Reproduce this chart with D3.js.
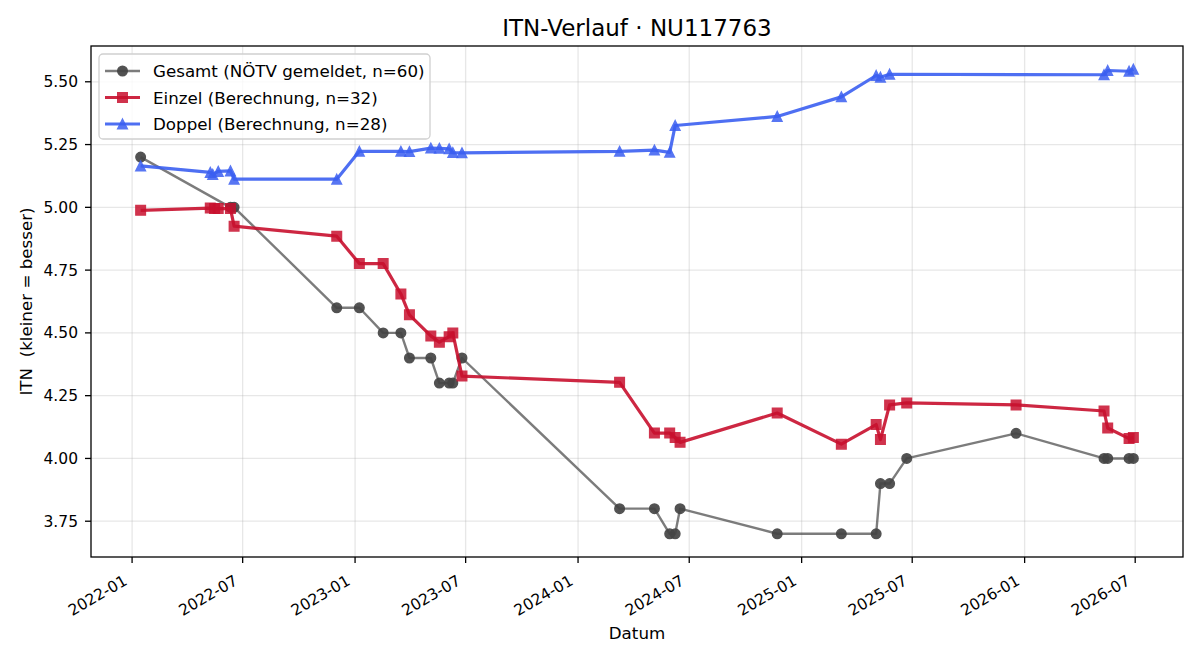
<!DOCTYPE html>
<html>
<head>
<meta charset="utf-8">
<script src="https://cdn.jsdelivr.net/npm/d3@7"></script>
<style>
  body { margin: 0; background: #fff; }
  svg { display: block; font-family: "DejaVu Sans", sans-serif; }
</style>
</head>
<body>
<svg id="chart" width="1200" height="660"></svg>
<script>
// values
const gesamtDates = ["2022-01-15", "2022-06-11", "2022-06-17", "2022-12-02", "2023-01-08", "2023-02-16",
  "2023-03-17", "2023-03-31", "2023-05-05", "2023-05-19", "2023-06-04", "2023-06-10", "2023-06-25",
  "2024-03-09", "2024-05-05", "2024-05-30", "2024-06-08", "2024-06-16", "2024-11-22", "2025-03-07",
  "2025-05-03", "2025-05-10", "2025-05-25", "2025-06-22", "2025-12-18", "2026-05-11", "2026-05-17",
  "2026-06-21", "2026-06-28"];
const gesamtValues = [5.20, 5.00, 5.00, 4.60, 4.60, 4.50,
  4.50, 4.40, 4.40, 4.30, 4.30, 4.30, 4.40,
  3.80, 3.80, 3.70, 3.70, 3.80, 3.70, 3.70,
  3.70, 3.90, 3.90, 4.00, 4.10, 4.00, 4.00,
  4.00, 4.00];

const einzelDates = ["2022-01-15", "2022-05-09", "2022-05-16", "2022-05-22", "2022-06-11", "2022-06-17",
  "2022-12-02", "2023-01-08", "2023-02-16", "2023-03-17", "2023-03-31", "2023-05-05", "2023-05-19",
  "2023-06-04", "2023-06-10", "2023-06-25", "2024-03-09", "2024-05-05", "2024-05-30", "2024-06-08",
  "2024-06-16", "2024-11-22", "2025-03-07", "2025-05-03", "2025-05-10", "2025-05-25", "2025-06-22",
  "2025-12-18", "2026-05-11", "2026-05-17", "2026-06-21", "2026-06-28"];
const einzelValues = [4.988, 4.997, 4.995, 4.995, 4.995, 4.925,
  4.885, 4.776, 4.776, 4.655, 4.572, 4.488, 4.463,
  4.485, 4.500, 4.328, 4.303, 4.101, 4.101, 4.083,
  4.064, 4.181, 4.057, 4.135, 4.075, 4.213, 4.221,
  4.213, 4.189, 4.121, 4.079, 4.083];

const doppelDates = ["2022-01-15", "2022-05-09", "2022-05-13", "2022-05-22", "2022-06-11", "2022-06-17",
  "2022-12-02", "2023-01-08", "2023-03-17", "2023-03-31", "2023-05-05", "2023-05-19", "2023-06-04",
  "2023-06-10", "2023-06-25", "2024-03-09", "2024-05-05", "2024-05-30", "2024-06-08", "2024-11-22",
  "2025-03-07", "2025-05-03", "2025-05-10", "2025-05-25", "2026-05-11", "2026-05-17", "2026-06-21",
  "2026-06-28"];
const doppelValues = [5.165, 5.139, 5.131, 5.143, 5.145, 5.112,
  5.112, 5.223, 5.223, 5.222, 5.236, 5.235, 5.233,
  5.218, 5.217, 5.223, 5.228, 5.219, 5.326, 5.362,
  5.440, 5.525, 5.518, 5.530, 5.528, 5.545, 5.542,
  5.550];

const yTicks = [3.75, 4.00, 4.25, 4.50, 4.75, 5.00, 5.25, 5.50];

const svg = d3.select("#chart");
const margin = { top: 46, right: 17, bottom: 103, left: 91 };
const width = 1200, height = 660;
const x0 = margin.left, x1 = width - margin.right;
const y0 = height - margin.bottom, y1 = margin.top;

const parse = d3.timeParse("%Y-%m-%d");
const toRows = (dates, vals) => dates.map((d, i) => ({ date: parse(d), value: vals[i] }));

const series = [
  { name: "Gesamt (NÖTV gemeldet, n=60)", rows: toRows(gesamtDates, gesamtValues), color: "#444",
    lineOpacity: 0.7, markOpacity: 0.92, width: 2.4, shape: "circle" },
  { name: "Einzel (Berechnung, n=32)", rows: toRows(einzelDates, einzelValues), color: "#c8102e",
    lineOpacity: 0.9, markOpacity: 0.85, width: 3.2, shape: "square" },
  { name: "Doppel (Berechnung, n=28)", rows: toRows(doppelDates, doppelValues), color: "#3b5ff1",
    lineOpacity: 0.9, markOpacity: 0.85, width: 3.2, shape: "triangle" }
];

const allRows = series.flatMap(s => s.rows);
const tExt = d3.extent(allRows, d => d.date);
const tPad = (tExt[1] - tExt[0]) * 0.05;
const vExt = d3.extent(allRows, d => d.value);
const vPad = (vExt[1] - vExt[0]) * 0.05;

const x = d3.scaleTime()
  .domain([new Date(+tExt[0] - tPad), new Date(+tExt[1] + tPad)])
  .range([x0, x1]);
const y = d3.scaleLinear()
  .domain([vExt[0] - vPad, vExt[1] + vPad])
  .range([y0, y1]);

const xTicks = x.ticks(d3.timeMonth.every(6));

// grid
const grid = svg.append("g").attr("stroke", "#b0b0b0").attr("stroke-opacity", 0.3).attr("stroke-width", 1.3);
grid.selectAll("line.gx").data(xTicks).join("line")
  .attr("x1", d => x(d)).attr("x2", d => x(d)).attr("y1", y0).attr("y2", y1);
grid.selectAll("line.gy").data(yTicks).join("line")
  .attr("x1", x0).attr("x2", x1).attr("y1", d => y(d)).attr("y2", d => y(d));

const ms = 9.5;
function markerPath(shape) {
  const h = ms / 2;
  if (shape === "square") return `M${-h},${-h}H${h}V${h}H${-h}Z`;
  if (shape === "triangle") return `M0,${-h}L${h},${h}L${-h},${h}Z`;
  return d3.symbol(d3.symbolCircle, Math.PI * h * h)();
}

const line = d3.line().x(d => x(d.date)).y(d => y(d.value));

series.forEach(s => {
  const g = svg.append("g");
  g.append("path")
    .datum(s.rows)
    .attr("fill", "none")
    .attr("stroke", s.color)
    .attr("stroke-opacity", s.lineOpacity)
    .attr("stroke-width", s.width)
    .attr("stroke-linejoin", "round")
    .attr("d", line);
  g.selectAll("path.mark").data(s.rows).join("path")
    .attr("class", "mark")
    .attr("transform", d => `translate(${x(d.date)},${y(d.value)})`)
    .attr("d", markerPath(s.shape))
    .attr("fill", s.color)
    .attr("stroke", s.color)
    .attr("stroke-width", 1.5)
    .attr("opacity", s.markOpacity);
});

// axes frame
svg.append("rect")
  .attr("x", x0).attr("y", y1).attr("width", x1 - x0).attr("height", y0 - y1)
  .attr("fill", "none").attr("stroke", "#000").attr("stroke-width", 1.3);

// x ticks
const xt = svg.append("g");
xt.selectAll("line").data(xTicks).join("line")
  .attr("x1", d => x(d)).attr("x2", d => x(d)).attr("y1", y0).attr("y2", y0 + 6)
  .attr("stroke", "#000").attr("stroke-width", 1.3);
xt.selectAll("text").data(xTicks).join("text")
  .attr("transform", d => `translate(${x(d) - 2},${y0 + 30}) rotate(-30)`)
  .attr("text-anchor", "end")
  .attr("dy", "-0.24em")
  .attr("font-size", 15.5)
  .attr("fill", "#000")
  .text(d3.timeFormat("%Y-%m"));

// y ticks
const yt = svg.append("g");
yt.selectAll("line").data(yTicks).join("line")
  .attr("x1", x0 - 6).attr("x2", x0).attr("y1", d => y(d)).attr("y2", d => y(d))
  .attr("stroke", "#000").attr("stroke-width", 1.3);
yt.selectAll("text").data(yTicks).join("text")
  .attr("x", x0 - 13).attr("y", d => y(d))
  .attr("dy", "0.36em")
  .attr("text-anchor", "end")
  .attr("font-size", 15.5)
  .attr("fill", "#000")
  .text(d3.format(".2f"));

// labels
svg.append("text")
  .attr("x", (x0 + x1) / 2).attr("y", 36)
  .attr("text-anchor", "middle").attr("font-size", 23)
  .text("ITN-Verlauf · NU117763");
svg.append("text")
  .attr("x", (x0 + x1) / 2).attr("y", 639)
  .attr("text-anchor", "middle").attr("font-size", 16.7)
  .text("Datum");
svg.append("text")
  .attr("transform", `translate(32,${(y0 + y1) / 2}) rotate(-90)`)
  .attr("text-anchor", "middle").attr("font-size", 16.7)
  .attr("xml:space", "preserve")
  .style("white-space", "pre")
  .text("ITN  (kleiner = besser)");

// legend
const lg = svg.append("g");
lg.append("rect")
  .attr("x", 99).attr("y", 54).attr("width", 331).attr("height", 85).attr("rx", 4)
  .attr("fill", "#fff").attr("fill-opacity", 0.8)
  .attr("stroke", "#d0d0d0").attr("stroke-width", 1.3);
series.forEach((s, i) => {
  const cy = 71 + i * 26.5;
  lg.append("line")
    .attr("x1", 105).attr("x2", 140).attr("y1", cy).attr("y2", cy)
    .attr("stroke", s.color).attr("stroke-opacity", s.lineOpacity).attr("stroke-width", s.width);
  lg.append("path")
    .attr("transform", `translate(122.5,${cy})`)
    .attr("d", markerPath(s.shape))
    .attr("fill", s.color).attr("stroke", s.color).attr("stroke-width", 1.5)
    .attr("opacity", s.markOpacity);
  lg.append("text")
    .attr("x", 153).attr("y", cy).attr("dy", "0.36em")
    .attr("font-size", 16.7)
    .text(s.name);
});
</script>
</body>
</html>
